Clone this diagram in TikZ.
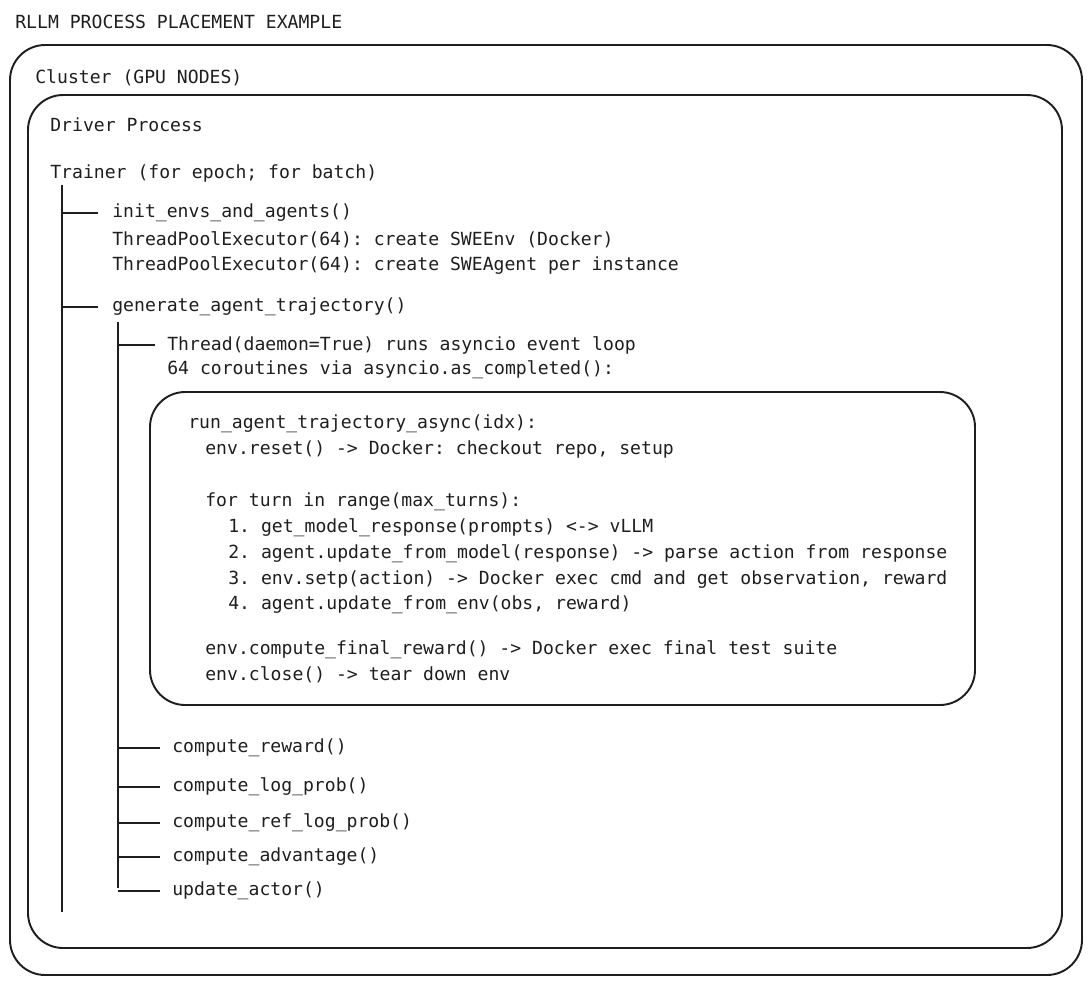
\documentclass[tikz,border=0pt]{standalone}
\usepackage{fontspec}
\setmonofont{DejaVu Sans Mono}
\definecolor{ink}{HTML}{1E1E1E}
\tikzset{
  box/.style={draw=ink, line width=1.1pt, rounded corners=20pt},
  txt/.style={anchor=west, inner sep=0pt, text=ink, font=\ttfamily\fontsize{10.3}{12}\selectfont},
  ttl/.style={anchor=west, inner sep=0pt, text=ink, font=\ttfamily\fontsize{10.3}{12}\selectfont},
  twig/.style={draw=ink, line width=1.1pt}
}
\begin{document}
\begin{tikzpicture}[x=0.02cm, y=-0.02cm]
    \useasboundingbox (0,0) rectangle (1092,984);
    % frames
    \draw[box] (10,45) rectangle (1082,975);
    \draw[box] (28,95) rectangle (1062,948);
    \draw[box] (150,392) rectangle (975,705);
    \node[ttl] (title) at (15,22) {RLLM PROCESS PLACEMENT EXAMPLE};
    \node[txt] (cluster) at (35,78) {Cluster (GPU NODES)};
    \node[txt] (driver) at (50,125) {Driver Process};
    \node[txt] (trainer) at (50,174) {Trainer (for epoch; for batch)};
    % trainer steps
    \node[txt] (init) at (112,213) {init\_envs\_and\_agents()};
    \node[txt] (poolenv) at (112,240) {ThreadPoolExecutor(64): create SWEEnv (Docker)};
    \node[txt] (poolagent) at (112,266) {ThreadPoolExecutor(64): create SWEAgent per instance};
    \node[txt] (gen) at (112,307) {generate\_agent\_trajectory()};
    \node[txt] (thread) at (167,345) {Thread(daemon=True) runs asyncio event loop};
    \node[txt] (corout) at (167,370) {64 coroutines via asyncio.as\_completed():};
    % coroutine body
    \node[txt] (run) at (188,424) {run\_agent\_trajectory\_async(idx):};
    \node[txt] (reset) at (205,450) {env.reset() -> Docker: checkout repo, setup};
    \node[txt] (loop) at (205,502) {for turn in range(max\_turns):};
    \node[txt] (s1) at (228,528) {1. get\_model\_response(prompts) <-> vLLM};
    \node[txt] (s2) at (228,554) {2. agent.update\_from\_model(response) -> parse action from response};
    \node[txt] (s3) at (228,580) {3. env.setp(action) -> Docker exec cmd and get observation, reward};
    \node[txt] (s4) at (228,605) {4. agent.update\_from\_env(obs, reward)};
    \node[txt] (final) at (205,650) {env.compute\_final\_reward() -> Docker exec final test suite};
    \node[txt] (close) at (205,675) {env.close() -> tear down env};
    % after rollout
    \node[txt] (rew) at (172,748) {compute\_reward()};
    \node[txt] (logp) at (172,787) {compute\_log\_prob()};
    \node[txt] (ref) at (172,823) {compute\_ref\_log\_prob()};
    \node[txt] (adv) at (172,857) {compute\_advantage()};
    \node[txt] (upd) at (172,891) {update\_actor()};
    % trunks
    \coordinate (t1top) at (62,185);
    \coordinate (t1bot) at (62,912);
    \coordinate (t2top) at (118,322);
    \coordinate (t2bot) at (118,888);
    \draw[twig] (t1top) -- (t1bot);
    \draw[twig] (t2top) -- (t2bot);
    \draw[twig] (62,213) -- ([xshift=-14*0.02cm]init.west);
    \draw[twig] (62,307) -- ([xshift=-14*0.02cm]gen.west);
    \draw[twig] (118,345) -- ([xshift=-12*0.02cm]thread.west);
    \foreach \n in {rew,logp,ref,adv,upd}
        \draw[twig] (t2top |- \n.west) -- ([xshift=-12*0.02cm]\n.west);
\end{tikzpicture}
\end{document}
